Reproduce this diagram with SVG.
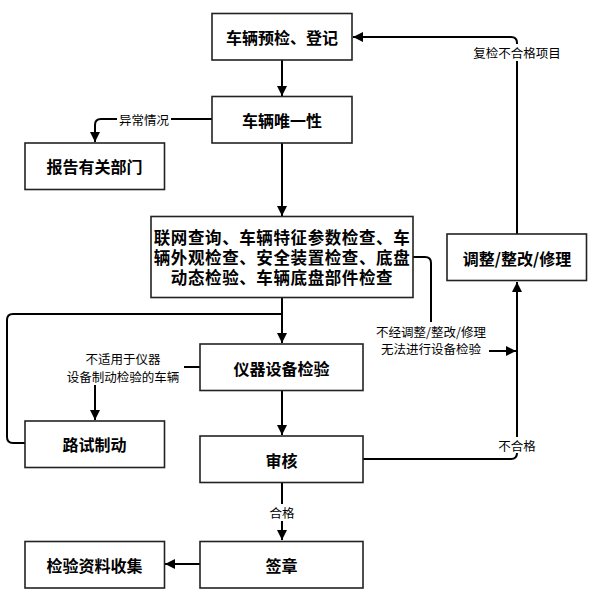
<svg xmlns="http://www.w3.org/2000/svg" width="589" height="603" viewBox="0 0 589 603">
<style>
.box{fill:#fff;stroke:#222;stroke-width:1.6}
.t{font-family:"Noto Sans CJK SC","Liberation Sans",sans-serif;font-weight:bold;font-size:16px;fill:#000;text-anchor:middle;dominant-baseline:central}
.big{font-size:16.5px;letter-spacing:0.6px}
.e{fill:none;stroke:#000;stroke-width:2}
.lbg{fill:#fff}
.l{font-family:"Noto Sans CJK SC","Liberation Sans",sans-serif;font-size:12.5px;fill:#000;text-anchor:middle;dominant-baseline:central}
</style>
<defs>
<marker id="a" viewBox="0 0 10 10" refX="10" refY="5" markerWidth="5" markerHeight="5" markerUnits="strokeWidth" orient="auto">
<path d="M0,0 L10,5 L0,10 z" fill="#000"/>
</marker>
</defs>
<rect width="589" height="603" fill="#fff"/>
<g id="connectors">
<path class="e" d="M282,60 V96" marker-end="url(#a)"/>
<path class="e" d="M212,119 H101 Q95,119 95,125 V142" marker-end="url(#a)"/>
<path class="e" d="M282,143 V216" marker-end="url(#a)"/>
<path class="e" d="M282,298 V343" marker-end="url(#a)"/>
<path class="e" d="M282,314 H13 Q7,314 7,320 V437 Q7,443 13,443 H25"/>
<path class="e" d="M200,367 H95 V420" marker-end="url(#a)"/>
<path class="e" d="M413,257 H425 Q431,257 431,263 V351 H516" marker-end="url(#a)"/>
<path class="e" d="M282,391 V435" marker-end="url(#a)"/>
<path class="e" d="M363,459 H511 Q517,459 517,453 V282" marker-end="url(#a)"/>
<path class="e" d="M517,234 V43 Q517,37 511,37 H353" marker-end="url(#a)"/>
<path class="e" d="M282,483 V540" marker-end="url(#a)"/>
<path class="e" d="M200,564 H165" marker-end="url(#a)"/>
<rect class="lbg" x="117" y="111" width="54" height="16"/>
<text class="l" x="144" y="119">异常情况</text>
<rect class="lbg" x="471" y="44" width="92" height="17"/>
<text class="l" x="517" y="52">复检不合格项目</text>
<rect class="lbg" x="372" y="322" width="117" height="35"/>
<text class="l" x="431" y="331">不经调整/整改/修理</text>
<text class="l" x="431" y="348">无法进行设备检验</text>
<rect class="lbg" x="63" y="349" width="121" height="36"/>
<text class="l" x="123" y="358">不适用于仪器</text>
<text class="l" x="123" y="376">设备制动检验的车辆</text>
<rect class="lbg" x="496" y="437" width="42" height="16"/>
<text class="l" x="517" y="445">不合格</text>
<rect class="lbg" x="266" y="504" width="32" height="17"/>
<text class="l" x="282" y="512">合格</text>
</g>
<g id="n1"><rect class="box" x="212" y="13.5" width="140" height="46.5"/><text class="t" x="282" y="37">车辆预检、登记</text></g>
<g id="n2"><rect class="box" x="212" y="96.5" width="140" height="46.5"/><text class="t" x="282" y="120">车辆唯一性</text></g>
<g id="n3"><rect class="box" x="25" y="143" width="139.5" height="46.5"/><text class="t" x="94.5" y="166">报告有关部门</text></g>
<g id="n4"><rect class="box" x="151" y="216.5" width="262" height="81"/>
<text class="t big" x="282" y="237">联网查询、车辆特征参数检查、车</text>
<text class="t big" x="282" y="257">辆外观检查、安全装置检查、底盘</text>
<text class="t big" x="282" y="276.5">动态检验、车辆底盘部件检查</text></g>
<g id="n5"><rect class="box" x="447" y="234" width="139.5" height="46.5"/><text class="t" x="517" y="257.5">调整/整改/修理</text></g>
<g id="n6"><rect class="box" x="200" y="344" width="163" height="46.5"/><text class="t" x="281.5" y="367.5">仪器设备检验</text></g>
<g id="n7"><rect class="box" x="25" y="421" width="139.5" height="46.5"/><text class="t" x="94.5" y="444">路试制动</text></g>
<g id="n8"><rect class="box" x="200" y="436" width="163" height="46.5"/><text class="t" x="281.5" y="459.5">审核</text></g>
<g id="n9"><rect class="box" x="200" y="541.5" width="163" height="46.5"/><text class="t" x="281.5" y="564.5">签章</text></g>
<g id="n10"><rect class="box" x="25" y="541.5" width="139.5" height="46.5"/><text class="t" x="94.5" y="564.5">检验资料收集</text></g>
</svg>
